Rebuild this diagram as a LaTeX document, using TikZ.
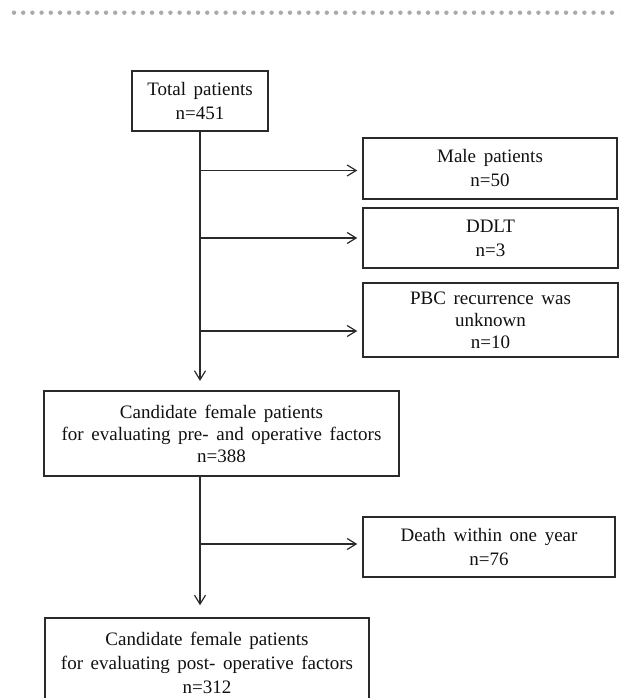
\documentclass[tikz,border=0pt]{standalone}
\usepackage{fontspec}
\setmainfont{Liberation Serif}[WordSpace=1.6]
\usetikzlibrary{arrows.meta}
\definecolor{boxc}{HTML}{2A2A2A}
\definecolor{txtc}{HTML}{101010}
\definecolor{dotgray}{HTML}{A9AAAC}
\begin{document}
\begin{tikzpicture}[x=0.75pt,y=-0.75pt,
  box/.style={draw=boxc, line width=1.1pt, align=center, inner sep=0pt, text=txtc,
    font=\fontsize{14.25}{18}\selectfont},
  tightbox/.style={box, font=\fontsize{14.25}{16.5}\selectfont},
  arr/.style={draw=boxc, line width=0.9pt, -{Straight Barb[length=6.75pt,width=8.25pt,line width=0.9pt]}},
  dot/.style={fill=dotgray, draw=none}
]
\useasboundingbox (0,0) rectangle (619,698);
\clip (0,0) rectangle (619,698);

% dotted rule
\foreach \i in {0,...,66} {
  \fill[dot] (14+\i*9.2,12.7) circle (1.65pt);
}

\node[box, minimum width=102pt, minimum height=45pt] (total) at (200,101) {Total patients\\n=451};
\node[box, minimum width=190.5pt, minimum height=45.75pt] (male) at (490,168.5) {Male patients\\n=50};
\node[box, minimum width=191.25pt, minimum height=45pt] (ddlt) at (490.5,238) {DDLT\\n=3};
\node[tightbox, minimum width=191.25pt, minimum height=55.5pt] (pbc) at (490.5,320) {PBC recurrence was\\unknown\\n=10};
\node[tightbox, minimum width=266.25pt, minimum height=63.75pt] (cand1) at (221.5,433.5) {Candidate female patients\\for evaluating pre- and operative factors\\n=388};
\node[box, minimum width=189pt, minimum height=45pt] (death) at (489,547) {Death within one year\\n=76};
\node[box, minimum width=243pt, minimum height=67.5pt] (cand2) at (207,663) {Candidate female patients\\for evaluating post- operative factors\\n=312};

\coordinate (maleIn) at ([yshift=-1.5pt]male.west);
\coordinate (ddltIn) at (ddlt.west);
\coordinate (pbcIn) at ([yshift=-8.25pt]pbc.west);
\coordinate (deathIn) at ([yshift=2.25pt]death.west);

% main vertical flow
\draw[arr, shorten >=7pt] (total.south) -- (total.south |- cand1.north);
\draw[arr, shorten >=9pt] (total.south |- cand1.south) -- (total.south |- cand2.north);

% side exclusions
\draw[arr, shorten >=3.75pt] (total.south |- maleIn) -- (maleIn);
\draw[arr, shorten >=3.75pt] (total.south |- ddltIn) -- (ddltIn);
\draw[arr, shorten >=3.75pt] (total.south |- pbcIn) -- (pbcIn);
\draw[arr, shorten >=3.75pt] (total.south |- deathIn) -- (deathIn);
\end{tikzpicture}
\end{document}
